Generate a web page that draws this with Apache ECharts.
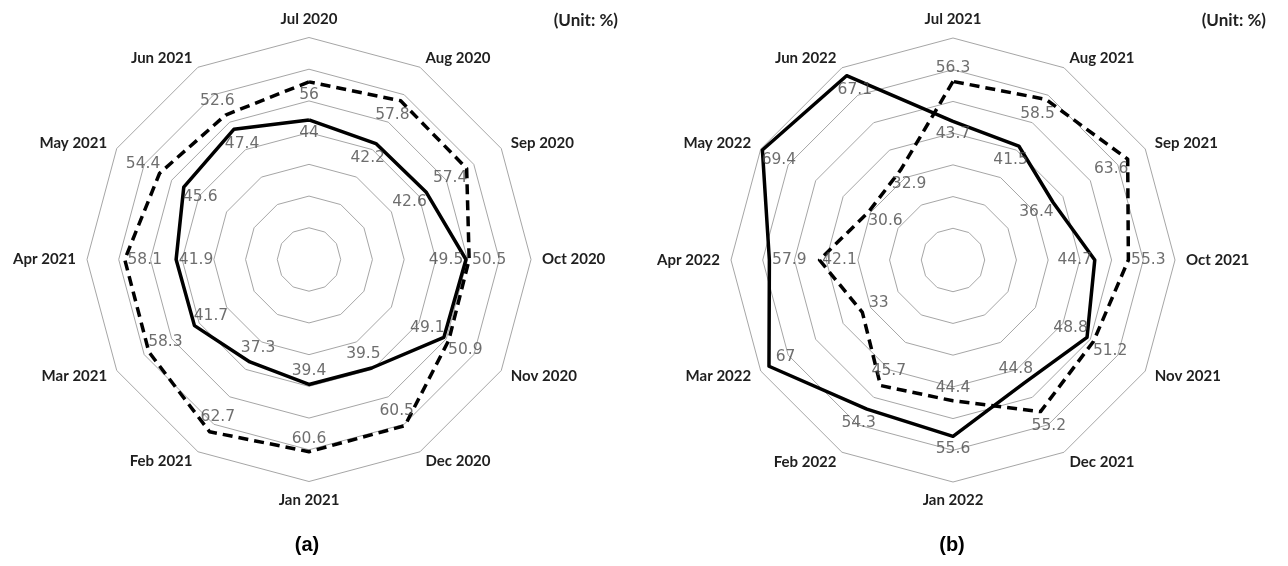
<!DOCTYPE html>
<html><head><meta charset="utf-8">
<script src="https://cdn.jsdelivr.net/npm/echarts@6/dist/echarts.min.js"></script>
<style>html,body{margin:0;padding:0;background:#fff}#c{width:1288px;height:566px}</style>
</head><body><div id="c"></div>
<script>
// ---------- data ----------
const monthsA = ['Jul 2020','Aug 2020','Sep 2020','Oct 2020','Nov 2020','Dec 2020','Jan 2021','Feb 2021','Mar 2021','Apr 2021','May 2021','Jun 2021'];
const solidA  = [44, 42.2, 42.6, 49.5, 49.1, 39.5, 39.4, 37.3, 41.7, 41.9, 45.6, 47.4];
const dashedA = [56, 57.8, 57.4, 50.5, 50.9, 60.5, 60.6, 62.7, 58.3, 58.1, 54.4, 52.6];

const monthsB = ['Jul 2021','Aug 2021','Sep 2021','Oct 2021','Nov 2021','Dec 2021','Jan 2022','Feb 2022','Mar 2022','Apr 2022','May 2022','Jun 2022'];
const solidB  = [43.7, 41.5, 36.4, 44.7, 48.8, 44.8, 55.6, 54.3, 67, 57.9, 69.4, 67.1];
const dashedB = [56.3, 58.5, 63.6, 55.3, 51.2, 55.2, 44.4, 45.7, 33, 42.1, 30.6, 32.9];

const axisMin = 0, axisMax = 70, axisSplits = 7;
const panelTitles = ['(a)', '(b)'];
const unitText = '(Unit: %)';

// ---------- label placement (style): 1 = outside the point, -1 = inside ----------
const sideSolidA  = [-1,-1,-1,-1,-1,-1,-1,-1,-1,-1,-1,-1];
const sideDashedA = [-1,-1,-1, 1, 1,-1,-1,-1,-1,-1, 1, 1];
const sideSolidB  = [-1,-1,-1,-1,-1,-1, 1, 1,-1,-1,-1,-1];
const sideDashedB = [ 1,-1,-1, 1, 1, 1,-1,-1,-1,-1,-1,-1];

// ---------- layout ----------
const panels = [
  {center:[309, 259.5], months:monthsA, solid:solidA, dashed:dashedA, sS:sideSolidA, sD:sideDashedA, title:[307,545], unit:[618,21]},
  {center:[953, 260],   months:monthsB, solid:solidB, dashed:dashedB, sS:sideSolidB, sD:sideDashedB, title:[952,545], unit:[1266,21]}
];
const R = 222;

// ECharts radar runs counter-clockwise; reorder so the months read clockwise from the top
const n = monthsA.length;
const order = [0].concat(Array.from({length:n-1}, (_, k) => n-1-k));

function labelItems(vals, sides) {
  return vals.map((v, i) => {
    const a = i * (360 / n) * Math.PI / 180;
    const s = Math.sin(a), c = Math.cos(a);
    const d = sides[i] * (13 + 7 * Math.abs(s));
    return {value:[v, i * (360 / n)], label:{offset:[d * s, -d * c]}};
  });
}

const radar = [], series = [], polar = [], angleAxis = [], radiusAxis = [], graphic = [];
panels.forEach((p, k) => {
  radar.push({
    center: p.center, radius: R, startAngle: 90, shape: 'polygon', splitNumber: axisSplits,
    indicator: order.map(i => ({name: p.months[i], min: axisMin, max: axisMax})),
    nameGap: 11,
    axisName: {color:'#1f1f1f', fontFamily:'Lato', fontWeight:'bold', fontSize:15},
    splitLine: {lineStyle:{color:'#a6a6a6', width:1}},
    splitArea: {show:false},
    axisLine: {show:false}, axisTick:{show:false}, axisLabel:{show:false}
  });
  series.push({
    type:'radar', radarIndex:k, symbol:'none', silent:true, animation:false,
    data:[
      {value: order.map(i => p.dashed[i]), lineStyle:{color:'#000', width:3.5, type:[10,6]}},
      {value: order.map(i => p.solid[i]),  lineStyle:{color:'#000', width:3.5, type:'solid'}}
    ]
  });
  polar.push({center: p.center, radius: R});
  angleAxis.push({polarIndex:k, type:'value', min:0, max:360, startAngle:90, clockwise:true, show:false});
  radiusAxis.push({polarIndex:k, type:'value', min:axisMin, max:axisMax, show:false});
  series.push({
    type:'scatter', coordinateSystem:'polar', polarIndex:k, silent:true, animation:false,
    symbol:'circle', symbolSize:1, itemStyle:{color:'rgba(0,0,0,0)'},
    label:{show:true, position:'inside', color:'#4a4a4a', fontFamily:'DejaVu Sans', fontSize:15.5,
           formatter: q => String(q.value[0])},
    data: labelItems(p.solid, p.sS).concat(labelItems(p.dashed, p.sD))
  });
  graphic.push({type:'text', x:p.title[0], y:p.title[1], silent:true,
    style:{text:panelTitles[k], font:'bold 20px "Liberation Sans"', fill:'#000',
           textAlign:'center', textVerticalAlign:'middle', align:'center', verticalAlign:'middle'}});
  graphic.push({type:'text', x:p.unit[0], y:p.unit[1], silent:true,
    style:{text:unitText, font:'bold 17px Lato', fill:'#1f1f1f',
           textAlign:'right', textVerticalAlign:'middle', align:'right', verticalAlign:'middle'}});
});

const chart = echarts.init(document.getElementById('c'), null, {renderer:'canvas'});
chart.setOption({
  backgroundColor:'#fff', animation:false,
  radar, polar, angleAxis, radiusAxis, series, graphic
});
</script>
</body></html>
